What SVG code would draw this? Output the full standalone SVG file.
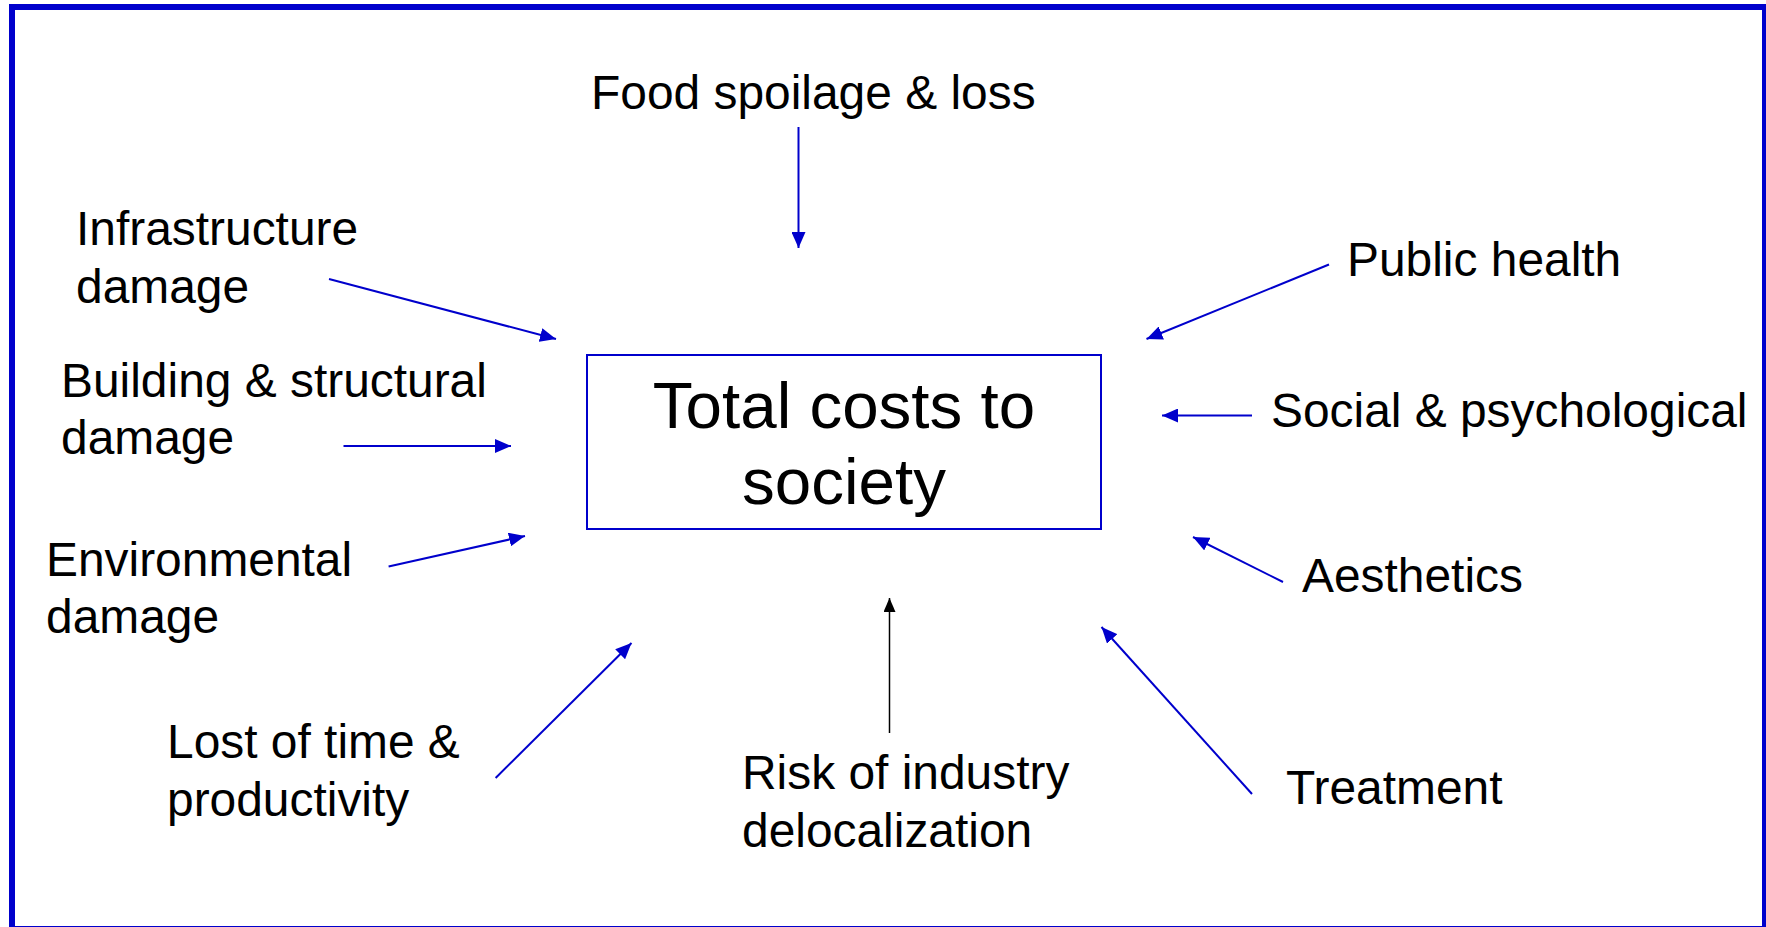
<svg xmlns="http://www.w3.org/2000/svg" width="1766" height="927" viewBox="0 0 1766 927">
<style>
  .lbl { font-family: "Liberation Sans", Arial, sans-serif; font-size: 47.9px; fill: #000; }
  .ctr { font-family: "Liberation Sans", Arial, sans-serif; font-size: 65.5px; fill: #000; text-anchor: middle; }
  .c { stroke: #0000CC; stroke-width: 2; fill: none; }
  .k { stroke: #000; stroke-width: 1.5; fill: none; }
</style>
<defs>
  <marker id="ab" markerUnits="userSpaceOnUse" markerWidth="16" markerHeight="14" refX="16" refY="7" orient="auto">
    <path d="M0,0 L16,7 L0,14 z" fill="#0000CC"/>
  </marker>
  <marker id="ak" markerUnits="userSpaceOnUse" markerWidth="14" markerHeight="12" refX="14" refY="6" orient="auto">
    <path d="M0,0 L14,6 L0,12 z" fill="#000"/>
  </marker>
</defs>
<rect x="0" y="0" width="1766" height="927" fill="#fff"/>
<rect id="frame" x="12" y="7" width="1753" height="922" fill="none" stroke="#0000CC" stroke-width="6"/>

<g id="center">
  <rect x="587" y="355" width="514" height="174" fill="none" stroke="#0000CC" stroke-width="2"/>
  <text class="ctr" x="844" y="428">Total costs to</text>
  <text class="ctr" x="844" y="504">society</text>
</g>

<g id="food"><text class="lbl" x="591" y="109">Food spoilage &amp; loss</text></g>
<g id="infra"><text class="lbl" x="76" y="245">Infrastructure</text><text class="lbl" x="76" y="302.6">damage</text></g>
<g id="building"><text class="lbl" x="61" y="396.7">Building &amp; structural</text><text class="lbl" x="61" y="454">damage</text></g>
<g id="env"><text class="lbl" x="46" y="575.6">Environmental</text><text class="lbl" x="46" y="633">damage</text></g>
<g id="lost"><text class="lbl" x="167" y="758">Lost of time &amp;</text><text class="lbl" x="167" y="816">productivity</text></g>
<g id="risk"><text class="lbl" x="742" y="789">Risk of industry</text><text class="lbl" x="742" y="847">delocalization</text></g>
<g id="treatment"><text class="lbl" x="1286" y="804">Treatment</text></g>
<g id="aesthetics"><text class="lbl" x="1302" y="592">Aesthetics</text></g>
<g id="social"><text class="lbl" x="1271" y="427">Social &amp; psychological</text></g>
<g id="public"><text class="lbl" x="1347" y="276">Public health</text></g>

<g id="connectors">
  <line class="c" x1="798.5" y1="127" x2="798.5" y2="248" marker-end="url(#ab)"/>
  <line class="c" x1="329" y1="279" x2="556" y2="339" marker-end="url(#ab)"/>
  <line class="c" x1="343.5" y1="446" x2="511" y2="446" marker-end="url(#ab)"/>
  <line class="c" x1="388.6" y1="566.5" x2="525" y2="536" marker-end="url(#ab)"/>
  <line class="c" x1="495.6" y1="778" x2="631.5" y2="643" marker-end="url(#ab)"/>
  <line class="k" x1="889.5" y1="733" x2="889.5" y2="598" marker-end="url(#ak)"/>
  <line class="c" x1="1252" y1="794" x2="1101.5" y2="627" marker-end="url(#ab)"/>
  <line class="c" x1="1283" y1="582" x2="1193" y2="537" marker-end="url(#ab)"/>
  <line class="c" x1="1252" y1="415.5" x2="1162" y2="415.5" marker-end="url(#ab)"/>
  <line class="c" x1="1329" y1="264.5" x2="1146.5" y2="339" marker-end="url(#ab)"/>
</g>
</svg>
